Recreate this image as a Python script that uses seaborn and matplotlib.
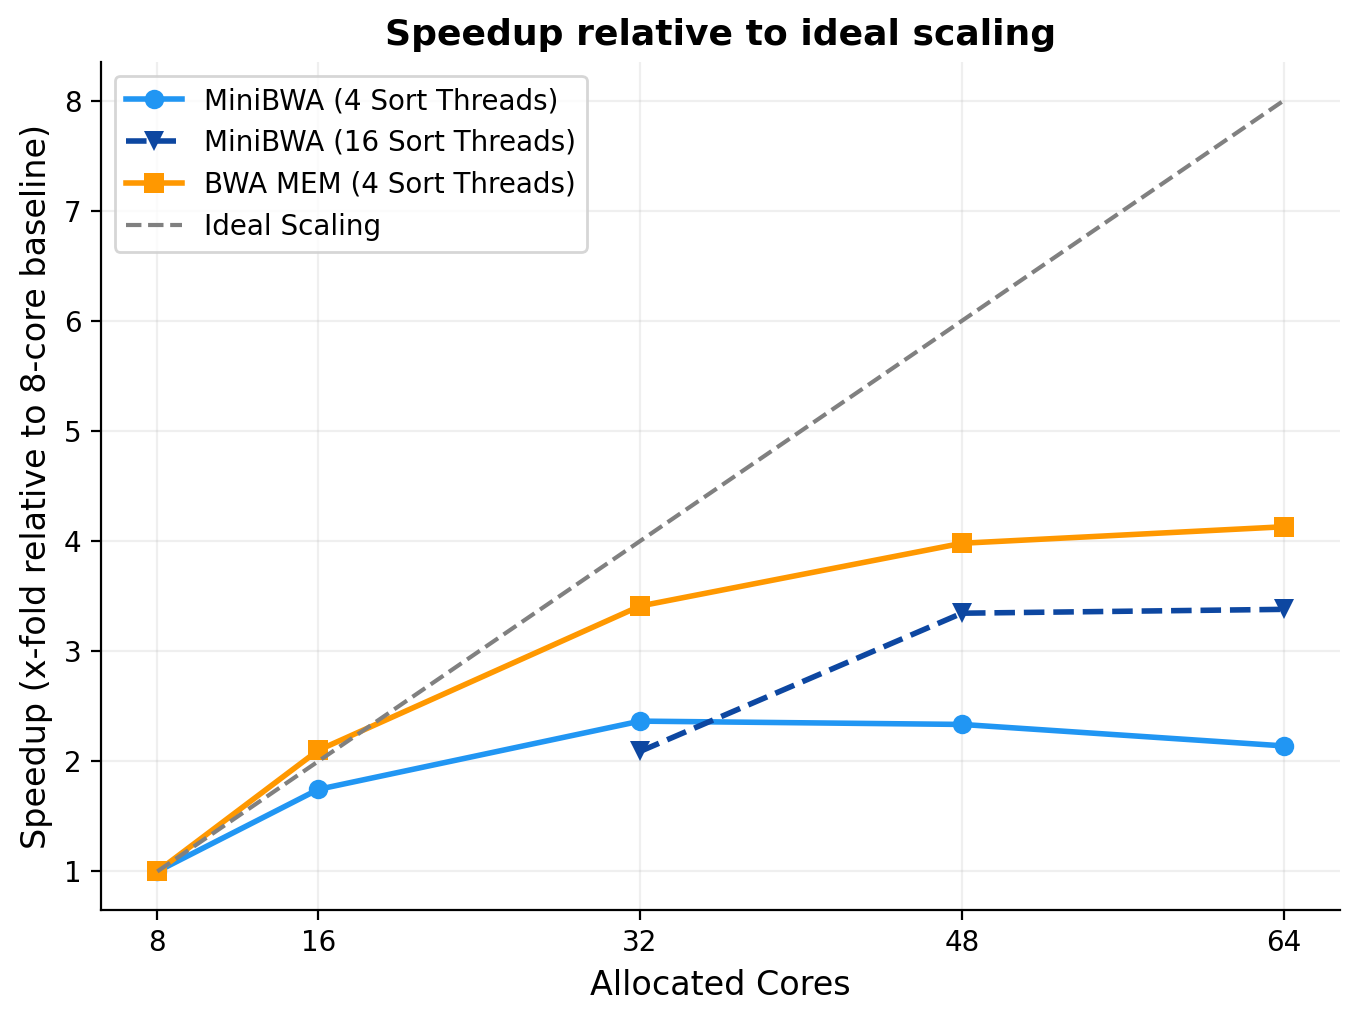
import pandas as pd
import matplotlib
matplotlib.use("Agg")
import matplotlib.pyplot as plt
import seaborn as sns

cores = [8, 16, 32, 48, 64]
mini4 = [1.0, 1.745, 2.365, 2.335, 2.14]
cores16 = [32, 48, 64]
mini16 = [2.09, 3.345, 3.38]
bwamem = [1.0, 2.10, 3.41, 3.98, 4.13]
ideal = [c / 8 for c in cores]

plt.rcParams['font.family'] = ['DejaVu Sans']

fig, ax = plt.subplots(figsize=(6.805, 5.11), dpi=200)

sns.lineplot(x=cores, y=mini4, ax=ax, color='#2196F3', marker='o', markersize=7,
             markeredgewidth=0, linewidth=2, label='MiniBWA (4 Sort Threads)')
sns.lineplot(x=cores16, y=mini16, ax=ax, color='#0D47A1', marker='v', markersize=7,
             markeredgewidth=0, linewidth=2, linestyle='--', label='MiniBWA (16 Sort Threads)')
sns.lineplot(x=cores, y=bwamem, ax=ax, color='#FF9800', marker='s', markersize=7,
             markeredgewidth=0, linewidth=2, label='BWA MEM (4 Sort Threads)')
sns.lineplot(x=cores, y=ideal, ax=ax, color='gray', linewidth=1.5, linestyle='--',
             label='Ideal Scaling')

ax.set_xticks(cores)
ax.set_title('Speedup relative to ideal scaling', fontweight='bold', fontsize=13)
ax.set_xlabel('Allocated Cores', fontsize=12)
ax.set_ylabel('Speedup (x-fold relative to 8-core baseline)', fontsize=12)
ax.grid(True, alpha=0.2)
sns.despine(ax=ax)
ax.legend(loc='upper left', fontsize=10)

fig.subplots_adjust(left=0.0742, right=0.9846, top=0.9393, bottom=0.1096)
plt.savefig('out.png', dpi=200)
